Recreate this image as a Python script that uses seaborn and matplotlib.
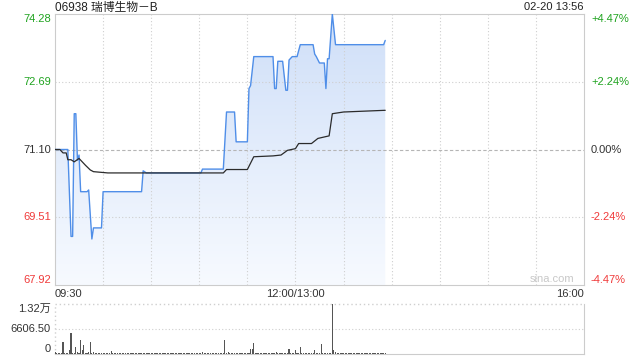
import numpy as np
import pandas as pd
import matplotlib
matplotlib.use("Agg")
import matplotlib.pyplot as plt
import seaborn as sns
from matplotlib.colors import LinearSegmentedColormap

# ---------------- data ----------------
title = "06938 瑞博生物－B"
stamp = "02-20 13:56"
price_ticks = [67.92, 69.51, 71.10, 72.69, 74.28]
price_tick_labels = ["67.92", "69.51", "71.10", "72.69", "74.28"]
pct_labels = ["-4.47%", "-2.24%", "0.00%", "+2.24%", "+4.47%"]
x_tick_pos = [0, 150, 330]           # trading minutes since 09:30
x_tick_labels = ["09:30", "12:00/13:00", "16:00"]
vol_ticks = [0, 6606.5, 13213]
vol_tick_labels = ["0", "6606.50", "1.32万"]

# price (minute index since 09:30, price)
price_t = [0, 8, 10, 11, 12, 13, 14, 15, 16, 20, 21, 23, 24, 29, 30, 54, 55, 57,
           91, 92, 105, 107, 112, 113, 120, 121, 122, 124, 136, 137, 138, 139,
           142, 144, 145, 146, 148, 151, 153, 161, 162, 163, 165, 168, 169, 170,
           171, 173, 175, 205, 206]
price_v = [71.10, 71.10, 69.06, 69.06, 71.94, 71.94, 70.85, 70.97, 70.11, 70.11,
           70.15, 69.00, 69.26, 69.26, 70.11, 70.11, 70.60, 70.55,
           70.55, 70.64, 70.64, 71.98, 71.98, 71.28, 71.28, 72.53, 72.60, 73.28,
           73.28, 72.53, 72.53, 73.17, 73.17, 72.49, 72.49, 73.20, 73.28, 73.28,
           73.56, 73.56, 73.34, 73.28, 73.13, 73.13, 72.53, 73.23, 73.23, 74.28,
           73.56, 73.56, 73.66]

# average price line
avg_t = [0, 3, 5, 7, 8, 10, 12, 15, 19, 22, 24, 33, 105, 107, 120, 124, 136, 141,
         145, 150, 152, 160, 164, 171, 173, 180, 206]
avg_v = [71.10, 71.10, 71.02, 71.02, 70.86, 70.86, 70.81, 70.89, 70.73, 70.62,
         70.58, 70.55, 70.55, 70.63, 70.63, 70.93, 70.95, 70.97, 71.08, 71.12,
         71.24, 71.24, 71.36, 71.42, 71.94, 71.98, 72.02]

# volume per minute, t = 0..206
volume = [
    400, 250, 150, 200, 300, 3300, 250, 200, 150, 980,
    5530, 300, 200, 1960, 620, 250, 3570, 1160, 2500, 300,
    200, 620, 3300, 250, 620, 200, 150, 250, 200, 150,
    200, 150, 250, 200, 150, 890, 200, 150, 200, 250,
    150, 200, 250, 150, 200, 150, 200, 300, 150, 200,
    250, 150, 200, 150, 300, 250, 200, 150, 200, 250,
    150, 200, 150, 250, 200, 150, 200, 150, 250, 200,
    150, 200, 250, 150, 200, 150, 200, 250, 150, 200,
    250, 150, 200, 150, 200, 250, 150, 200, 150, 200,
    150, 250, 620, 200, 150, 200, 250, 150, 200, 150,
    200, 150, 250, 200, 150, 200, 3660, 300, 450, 200,
    150, 250, 200, 150, 300, 200, 150, 250, 200, 150,
    200, 250, 1430, 1430, 2860, 250, 200, 150, 200, 250,
    150, 200, 250, 200, 150, 200, 300, 250, 400, 200,
    150, 200, 250, 200, 300, 200, 1430, 250, 200, 150,
    1160, 200, 250, 1960, 200, 150, 200, 250, 200, 150,
    200, 250, 1160, 200, 300, 250, 2770, 200, 150, 250,
    300, 200, 350, 13213, 1160, 400, 250, 300, 200, 250,
    200, 150, 250, 200, 150, 200, 250, 200, 150, 200,
    250, 200, 150, 200, 250, 150, 200, 250, 150, 200,
    250, 200, 150, 200, 250, 200, 300,
]
vol_t = list(range(len(volume)))

# ---------------- style ----------------
sns.set_theme(style="white")
plt.rcParams['font.family'] = ['Liberation Sans', 'Noto Sans CJK SC']
plt.rcParams['axes.unicode_minus'] = False

GREEN = '#1fa31f'
RED = '#f03a3a'
DARK = '#333333'
GRID = '#cfcfcf'
FRAME = '#cccccc'
BLUE = '#4f8ee8'

col_by_tick = [RED, RED, DARK, GREEN, GREEN]
va_by_tick = ['bottom', 'center', 'center', 'center', 'top']

fig = plt.figure(figsize=(6.4, 3.6), dpi=100)
ax = fig.add_axes([55 / 640, 75 / 360, 529 / 640, 271 / 360])
axv = fig.add_axes([55 / 640, 6 / 360, 529 / 640, 50 / 360])

ymin, ymax = price_ticks[0], price_ticks[-1]
xmax = x_tick_pos[-1]

# gradient fill under the price line
poly = ax.fill_between(price_t, price_v, ymin, color='none', lw=0)
grad = np.linspace(1, 0, 256).reshape(-1, 1)
cmap = LinearSegmentedColormap.from_list('g', ['#f7faff', '#cfdff8'])
im = ax.imshow(grad, extent=[0, xmax, ymin, ymax], aspect='auto', cmap=cmap,
               origin='upper', zorder=1, interpolation='bilinear')
im.set_clip_path(poly.get_paths()[0], transform=ax.transData)

# gridlines (drawn over the fill)
for y in [price_ticks[1], price_ticks[3]]:
    ax.axhline(y, color=GRID, ls=(0, (1, 2)), lw=0.8, zorder=2)
ax.axhline(price_ticks[2], color='#b5b5b5', ls=(0, (3, 2)), lw=0.8, zorder=2)
for xg in range(30, xmax, 30):
    ax.axvline(xg, color=GRID, ls=(0, (1, 2)), lw=0.8, zorder=2)

sns.lineplot(x=price_t, y=price_v, ax=ax, color=BLUE, lw=1.0, zorder=3)
sns.lineplot(x=avg_t, y=avg_v, ax=ax, color='#2b2b2b', lw=0.9, zorder=4)

ax.set_xlim(0, xmax)
ax.set_ylim(ymin, ymax)
ax.set_xlabel('')
ax.set_ylabel('')
for s in ax.spines.values():
    s.set_color(FRAME)
    s.set_linewidth(0.8)
    s.set_visible(True)

ax.set_yticks(price_ticks, price_tick_labels)
ax.tick_params(axis='y', length=0, pad=3, labelsize=8)
for lab, c, va in zip(ax.get_yticklabels(), col_by_tick, va_by_tick):
    lab.set_color(c)
    lab.set_va(va)

ax.set_xticks(x_tick_pos, x_tick_labels)
ax.tick_params(axis='x', length=0, pad=3, labelsize=8, labelcolor=DARK)
for lab, ha in zip(ax.get_xticklabels(), ['left', 'center', 'right']):
    lab.set_ha(ha)

ax2 = ax.twinx()
ax2.set_ylim(ymin, ymax)
ax2.set_yticks(price_ticks, pct_labels)
ax2.tick_params(axis='y', length=0, pad=5, labelsize=8)
for s in ax2.spines.values():
    s.set_visible(False)
for lab, c, va in zip(ax2.get_yticklabels(), col_by_tick, va_by_tick):
    lab.set_color(c)
    lab.set_va(va)

ax.text(0.94, 0.022, 'sina.com', transform=ax.transAxes, ha='center', va='center',
        fontsize=8, color='#c8c8c8', zorder=5)

# ---------------- volume panel ----------------
axv.bar(vol_t, volume, width=0.7, color='#555555', lw=0, zorder=3)
axv.set_xlim(0, xmax)
axv.set_ylim(vol_ticks[0], vol_ticks[-1])
axv.axhline(vol_ticks[1], color=GRID, ls=(0, (1, 2)), lw=0.8, zorder=0.5)
axv.axhline(vol_ticks[2], color=GRID, ls=(0, (1, 2)), lw=1.0, zorder=0.5, clip_on=False)
axv.axvline(0, color=GRID, ls=(0, (1, 2)), lw=1.0, zorder=0.5, clip_on=False)
axv.spines['top'].set_visible(False)
axv.spines['left'].set_visible(False)
for k in ['bottom', 'right']:
    axv.spines[k].set_color(FRAME)
    axv.spines[k].set_linewidth(0.8)
    axv.spines[k].set_visible(True)
axv.set_xticks([])
axv.set_yticks(vol_ticks, vol_tick_labels)
axv.tick_params(axis='y', length=0, pad=3, labelsize=8, labelcolor=DARK)
for lab, va in zip(axv.get_yticklabels(), ['bottom', 'center', 'top']):
    lab.set_va(va)

# header texts
fig.text(55 / 640, 1 - 7.5 / 360, title, ha='left', va='center', fontsize=8.5, color='#222222')
fig.text(584 / 640, 1 - 7.5 / 360, stamp, ha='right', va='center', fontsize=8, color='#222222')

fig.savefig('out.png', dpi=100)
